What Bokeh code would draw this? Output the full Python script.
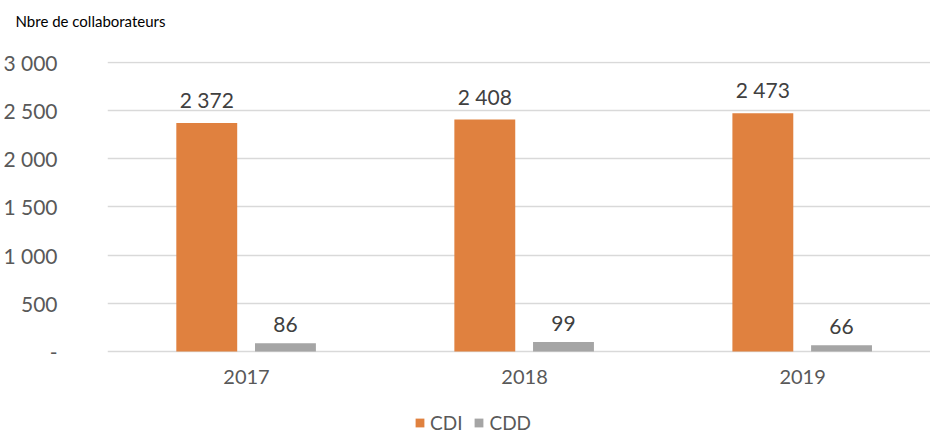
from bokeh.plotting import figure
from bokeh.models import ColumnDataSource, FixedTicker, Legend, LegendItem, Range1d, Title
from bokeh.transform import dodge
from bokeh.embed import file_html
from bokeh.resources import INLINE

years = ["2017", "2018", "2019"]
cdi = [2372, 2408, 2473]
cdd = [86, 99, 66]
y_ticks = [0, 500, 1000, 1500, 2000, 2500, 3000]
y_tick_labels = ["-", "500", "1 000", "1 500", "2 000", "2 500", "3 000"]

def fmt(v):
    return f"{v:,}".replace(",", " ")

x_pos = [i + 0.5 for i in range(len(years))]
src = ColumnDataSource(dict(
    x=x_pos, year=years, base=[0] * len(years), cdi=cdi, cdd=cdd,
    cdi_lbl=[fmt(v) for v in cdi], cdd_lbl=[fmt(v) for v in cdd],
))

FONT = "Lato"
ORANGE = "#E0813F"
GREY = "#A5A5A5"

p = figure(frame_width=823, frame_height=375, output_backend="svg", toolbar_location=None,
           x_range=Range1d(0, 2.96), y_range=Range1d(-882, 3010), x_axis_location=None,
           min_border_left=107, min_border_right=0, min_border_top=61, min_border_bottom=0)
p.outline_line_color = None
p.background_fill_color = "white"
p.border_fill_color = "white"

r1 = p.vbar(x=dodge("x", -0.143, range=p.x_range), top="cdi", width=0.219, source=src,
            fill_color=ORANGE, line_color=None)
r2 = p.vbar(x=dodge("x", 0.14, range=p.x_range), top="cdd", width=0.219, source=src,
            fill_color=GREY, line_color=None)

p.text(x=dodge("x", -0.143, range=p.x_range), y="cdi", text="cdi_lbl", source=src,
       text_align="center", text_baseline="bottom", y_offset=-11,
       text_font={"value": FONT}, text_font_size="21px", text_color="#404040")
p.text(x=dodge("x", 0.14, range=p.x_range), y="cdd", text="cdd_lbl", source=src,
       text_align="center", text_baseline="bottom", y_offset=-11,
       text_font={"value": FONT}, text_font_size="21px", text_color="#404040")

# category labels under the baseline
p.text(x="x", y="base", text="year", source=src,
       text_align="center", text_baseline="top", y_offset=18,
       text_font={"value": FONT}, text_font_size="20px", text_color="#595959")

# y axis
p.yaxis.ticker = FixedTicker(ticks=y_ticks)
p.yaxis.major_label_overrides = {t: l for t, l in zip(y_ticks, y_tick_labels)}
p.yaxis.axis_line_color = None
p.yaxis.major_tick_line_color = None
p.yaxis.minor_tick_line_color = None
p.yaxis.major_label_text_font = FONT
p.yaxis.major_label_text_font_size = "21px"
p.yaxis.major_label_text_color = "#595959"
p.yaxis.major_label_standoff = 44

p.xgrid.grid_line_color = None
p.ygrid.ticker = FixedTicker(ticks=y_ticks)
p.ygrid.grid_line_color = "#D9D9D9"
p.ygrid.grid_line_width = 1.5

# title
p.title.text = "Nbre de collaborateurs"
p.title.text_font = FONT
p.title.text_font_style = "normal"
p.title.text_font_size = "15px"
p.title.text_color = "#000000"
p.title.align = "left"
p.title.offset = -92
p.add_layout(Title(text=" ", text_font_size="22px", standoff=0), "above")

legend = Legend(items=[LegendItem(label="CDI", renderers=[r1]),
                       LegendItem(label="CDD", renderers=[r2])],
                orientation="horizontal", location=(307, 2),
                label_text_font=FONT, label_text_font_size="19px",
                label_text_color="#595959", glyph_width=11, glyph_height=11,
                label_height=18, spacing=11, label_standoff=5, padding=0, margin=0,
                border_line_color=None, background_fill_alpha=0)
p.add_layout(legend, "center")

open("out.html", "w").write(file_html(p, INLINE))
